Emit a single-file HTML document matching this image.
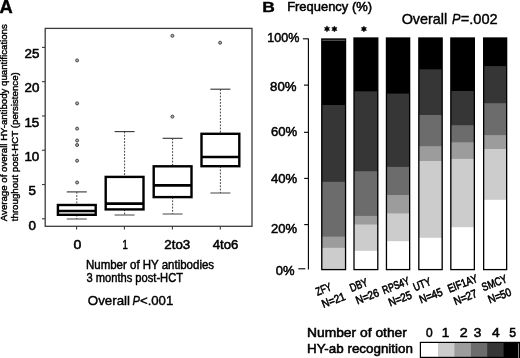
<!DOCTYPE html>
<html><head><meta charset="utf-8"><style>
html,body{margin:0;padding:0;background:#fff;}
svg{display:block;filter:grayscale(1);}
text{font-family:"Liberation Sans", sans-serif;fill:#000;stroke:#000;stroke-width:0.3px;}
</style></head><body>
<svg width="520" height="358" viewBox="0 0 520 358">
<rect x="0" y="0" width="520" height="358" fill="#fff"/>
<text x="-0.46" y="12.50" font-size="18" font-weight="bold" textLength="13.26" lengthAdjust="spacingAndGlyphs" style="stroke-width:0.4px">A</text>
<rect x="45.2" y="28.4" width="206.80" height="197.90" fill="none" stroke="#3c3c3c" stroke-width="1.3"/>
<line x1="42.0" y1="218.80" x2="45.2" y2="218.80" stroke="#3c3c3c" stroke-width="1.1"/>
<text x="28.38" y="229.70" font-size="13.4" textLength="7.45" lengthAdjust="spacingAndGlyphs" style="stroke-width:0.55px">0</text>
<line x1="42.0" y1="184.52" x2="45.2" y2="184.52" stroke="#3c3c3c" stroke-width="1.1"/>
<text x="28.38" y="195.36" font-size="13.4" textLength="7.45" lengthAdjust="spacingAndGlyphs" style="stroke-width:0.55px">5</text>
<line x1="42.0" y1="150.24" x2="45.2" y2="150.24" stroke="#3c3c3c" stroke-width="1.1"/>
<text x="24.43" y="161.02" font-size="13.4" textLength="14.91" lengthAdjust="spacingAndGlyphs" style="stroke-width:0.55px">10</text>
<line x1="42.0" y1="115.96" x2="45.2" y2="115.96" stroke="#3c3c3c" stroke-width="1.1"/>
<text x="24.43" y="126.68" font-size="13.4" textLength="14.91" lengthAdjust="spacingAndGlyphs" style="stroke-width:0.55px">15</text>
<line x1="42.0" y1="81.68" x2="45.2" y2="81.68" stroke="#3c3c3c" stroke-width="1.1"/>
<text x="24.60" y="92.34" font-size="13.4" textLength="14.91" lengthAdjust="spacingAndGlyphs" style="stroke-width:0.55px">20</text>
<line x1="42.0" y1="47.40" x2="45.2" y2="47.40" stroke="#3c3c3c" stroke-width="1.1"/>
<text x="24.60" y="58.00" font-size="13.4" textLength="14.91" lengthAdjust="spacingAndGlyphs" style="stroke-width:0.55px">25</text>
<line x1="76.6" y1="226.3" x2="76.6" y2="229.5" stroke="#3c3c3c" stroke-width="1.1"/>
<line x1="124.4" y1="226.3" x2="124.4" y2="229.5" stroke="#3c3c3c" stroke-width="1.1"/>
<line x1="172.4" y1="226.3" x2="172.4" y2="229.5" stroke="#3c3c3c" stroke-width="1.1"/>
<line x1="220.3" y1="226.3" x2="220.3" y2="229.5" stroke="#3c3c3c" stroke-width="1.1"/>
<text x="73.64" y="249.20" font-size="13.4" textLength="7.84" lengthAdjust="spacingAndGlyphs" style="stroke-width:0.55px">0</text>
<text x="122.38" y="249.20" font-size="13.4" textLength="5.30" lengthAdjust="spacingAndGlyphs" style="stroke-width:0.55px">1</text>
<text x="164.34" y="249.20" font-size="13.4" textLength="25.88" lengthAdjust="spacingAndGlyphs" style="stroke-width:0.55px">2to3</text>
<text x="212.67" y="249.20" font-size="13.4" textLength="25.64" lengthAdjust="spacingAndGlyphs" style="stroke-width:0.55px">4to6</text>
<line x1="76.8" y1="191.9" x2="76.8" y2="205.0" stroke="#3a3a3a" stroke-width="0.95" stroke-dasharray="1.8 1.4"/>
<line x1="76.8" y1="214.8" x2="76.8" y2="219.0" stroke="#3a3a3a" stroke-width="0.95" stroke-dasharray="1.8 1.4"/>
<line x1="66.8" y1="191.9" x2="86.8" y2="191.9" stroke="#333" stroke-width="1.1"/>
<line x1="66.8" y1="219.0" x2="86.8" y2="219.0" stroke="#444" stroke-width="1.0"/>
<rect x="57.90" y="205.0" width="37.8" height="9.80" fill="#fff" stroke="#000" stroke-width="2.4"/>
<line x1="57.90" y1="211.0" x2="95.70" y2="211.0" stroke="#000" stroke-width="2.6"/>
<circle cx="77.1" cy="60.4" r="1.5" fill="#b0b0b0" stroke="#383838" stroke-width="0.9"/>
<circle cx="77.1" cy="103.4" r="1.5" fill="#b0b0b0" stroke="#383838" stroke-width="0.9"/>
<circle cx="77.1" cy="128.6" r="1.5" fill="#b0b0b0" stroke="#383838" stroke-width="0.9"/>
<circle cx="77.1" cy="140.5" r="1.5" fill="#b0b0b0" stroke="#383838" stroke-width="0.9"/>
<circle cx="77.1" cy="145.0" r="1.5" fill="#b0b0b0" stroke="#383838" stroke-width="0.9"/>
<circle cx="77.1" cy="160.7" r="1.5" fill="#b0b0b0" stroke="#383838" stroke-width="0.9"/>
<circle cx="77.1" cy="182.5" r="1.5" fill="#b0b0b0" stroke="#383838" stroke-width="0.9"/>
<line x1="124.6" y1="131.6" x2="124.6" y2="176.9" stroke="#3a3a3a" stroke-width="0.95" stroke-dasharray="1.8 1.4"/>
<line x1="124.6" y1="209.4" x2="124.6" y2="215.0" stroke="#3a3a3a" stroke-width="0.95" stroke-dasharray="1.8 1.4"/>
<line x1="114.6" y1="131.6" x2="134.6" y2="131.6" stroke="#333" stroke-width="1.1"/>
<line x1="114.6" y1="215.0" x2="134.6" y2="215.0" stroke="#444" stroke-width="1.0"/>
<rect x="105.70" y="176.9" width="37.8" height="32.50" fill="#fff" stroke="#000" stroke-width="2.4"/>
<line x1="105.70" y1="203.6" x2="143.50" y2="203.6" stroke="#000" stroke-width="2.6"/>
<line x1="172.6" y1="138.3" x2="172.6" y2="166.3" stroke="#3a3a3a" stroke-width="0.95" stroke-dasharray="1.8 1.4"/>
<line x1="172.6" y1="197.1" x2="172.6" y2="214.0" stroke="#3a3a3a" stroke-width="0.95" stroke-dasharray="1.8 1.4"/>
<line x1="162.6" y1="138.3" x2="182.6" y2="138.3" stroke="#333" stroke-width="1.1"/>
<line x1="162.6" y1="214.0" x2="182.6" y2="214.0" stroke="#444" stroke-width="1.0"/>
<rect x="153.70" y="166.3" width="37.8" height="30.80" fill="#fff" stroke="#000" stroke-width="2.4"/>
<line x1="153.70" y1="185.4" x2="191.50" y2="185.4" stroke="#000" stroke-width="2.6"/>
<circle cx="172.4" cy="35.8" r="1.5" fill="#b0b0b0" stroke="#383838" stroke-width="0.9"/>
<circle cx="172.4" cy="116.6" r="1.5" fill="#b0b0b0" stroke="#383838" stroke-width="0.9"/>
<line x1="220.4" y1="89.2" x2="220.4" y2="133.8" stroke="#3a3a3a" stroke-width="0.95" stroke-dasharray="1.8 1.4"/>
<line x1="220.4" y1="166.2" x2="220.4" y2="193.0" stroke="#3a3a3a" stroke-width="0.95" stroke-dasharray="1.8 1.4"/>
<line x1="210.4" y1="89.2" x2="230.4" y2="89.2" stroke="#333" stroke-width="1.1"/>
<line x1="210.4" y1="193.0" x2="230.4" y2="193.0" stroke="#444" stroke-width="1.0"/>
<rect x="201.50" y="133.8" width="37.8" height="32.40" fill="#fff" stroke="#000" stroke-width="2.4"/>
<line x1="201.50" y1="157.0" x2="239.30" y2="157.0" stroke="#000" stroke-width="2.6"/>
<circle cx="220.1" cy="42.7" r="1.5" fill="#b0b0b0" stroke="#383838" stroke-width="0.9"/>
<text transform="translate(6.7,221.2) rotate(-90)" font-size="9.6" style="stroke-width:0.4px"><tspan x="0" y="0" textLength="197" lengthAdjust="spacingAndGlyphs">Average of overall HY-antibody quantifications</tspan><tspan x="0" y="11.7" textLength="149" lengthAdjust="spacingAndGlyphs">throughout post-HCT (persistence)</tspan></text>
<text x="85.98" y="268.90" font-size="11.9" textLength="128.12" lengthAdjust="spacingAndGlyphs" style="stroke-width:0.45px">Number of HY antibodies</text>
<text x="86.45" y="281.60" font-size="11.9" textLength="96.56" lengthAdjust="spacingAndGlyphs" style="stroke-width:0.45px">3 months post-HCT</text>
<text x="87.80" y="305.40" font-size="12.9" textLength="42.20" lengthAdjust="spacingAndGlyphs" style="stroke-width:0.4px">Overall</text>
<text x="132.57" y="305.40" font-size="12.9" font-style="italic" textLength="7.41" lengthAdjust="spacingAndGlyphs" style="stroke-width:0.4px">P</text>
<text x="139.94" y="305.40" font-size="12.9" textLength="33.32" lengthAdjust="spacingAndGlyphs" style="stroke-width:0.4px">&lt;.001</text>
<text x="262.27" y="12.40" font-size="15.4" font-weight="bold" textLength="12.55" lengthAdjust="spacingAndGlyphs" style="stroke-width:0.4px">B</text>
<text x="287.16" y="11.20" font-size="12.6" textLength="84.85" lengthAdjust="spacingAndGlyphs" style="stroke-width:0.5px">Frequency (%)</text>
<text x="401.65" y="24.40" font-size="14.4" textLength="45.62" lengthAdjust="spacingAndGlyphs" style="stroke-width:0.4px">Overall</text>
<text x="452.02" y="24.40" font-size="14.4" font-style="italic" textLength="8.47" lengthAdjust="spacingAndGlyphs" style="stroke-width:0.4px">P</text>
<text x="460.77" y="24.40" font-size="14.4" textLength="36.97" lengthAdjust="spacingAndGlyphs" style="stroke-width:0.4px">=.002</text>
<line x1="308.4" y1="38.6" x2="308.4" y2="269.4" stroke="#000" stroke-width="1.1"/>
<line x1="302.9" y1="38.8" x2="308.4" y2="38.8" stroke="#000" stroke-width="1.1"/>
<line x1="304.0" y1="85.1" x2="308.4" y2="85.1" stroke="#000" stroke-width="1.1"/>
<line x1="304.0" y1="132.3" x2="308.4" y2="132.3" stroke="#000" stroke-width="1.1"/>
<line x1="304.2" y1="178.4" x2="308.4" y2="178.4" stroke="#000" stroke-width="1.1"/>
<line x1="304.2" y1="224.6" x2="308.4" y2="224.6" stroke="#000" stroke-width="1.1"/>
<line x1="298.3" y1="268.8" x2="305.3" y2="268.8" stroke="#000" stroke-width="1.1"/>
<text x="267.36" y="42.40" font-size="13.3" textLength="32.05" lengthAdjust="spacingAndGlyphs" style="stroke-width:0.5px">100%</text>
<text x="270.10" y="90.60" font-size="13.3" textLength="26.48" lengthAdjust="spacingAndGlyphs" style="stroke-width:0.5px">80%</text>
<text x="270.94" y="136.30" font-size="13.3" textLength="26.34" lengthAdjust="spacingAndGlyphs" style="stroke-width:0.5px">60%</text>
<text x="270.97" y="182.90" font-size="13.3" textLength="26.31" lengthAdjust="spacingAndGlyphs" style="stroke-width:0.5px">40%</text>
<text x="270.95" y="233.30" font-size="13.3" textLength="26.13" lengthAdjust="spacingAndGlyphs" style="stroke-width:0.5px">20%</text>
<text x="275.68" y="275.10" font-size="13.3" textLength="18.78" lengthAdjust="spacingAndGlyphs" style="stroke-width:0.5px">0%</text>
<rect x="321.80" y="39.00" width="23.75" height="230.60" fill="#000000"/>
<rect x="321.80" y="105.00" width="23.75" height="164.60" fill="#363636"/>
<rect x="321.80" y="181.80" width="23.75" height="87.80" fill="#6c6c6c"/>
<rect x="321.80" y="236.60" width="23.75" height="33.00" fill="#9c9c9c"/>
<rect x="321.80" y="247.80" width="23.75" height="21.80" fill="#cccccc"/>
<rect x="321.80" y="39.0" width="23.75" height="230.60" fill="none" stroke="#000" stroke-width="1.3"/>
<rect x="354.00" y="38.00" width="23.80" height="231.60" fill="#000000"/>
<rect x="354.00" y="91.30" width="23.80" height="178.30" fill="#363636"/>
<rect x="354.00" y="171.20" width="23.80" height="98.40" fill="#6c6c6c"/>
<rect x="354.00" y="215.90" width="23.80" height="53.70" fill="#9c9c9c"/>
<rect x="354.00" y="224.50" width="23.80" height="45.10" fill="#cccccc"/>
<rect x="354.00" y="250.80" width="23.80" height="18.80" fill="#ffffff"/>
<rect x="354.00" y="38.0" width="23.80" height="231.60" fill="none" stroke="#000" stroke-width="1.3"/>
<rect x="386.45" y="38.00" width="23.20" height="231.60" fill="#000000"/>
<rect x="386.45" y="93.60" width="23.20" height="176.00" fill="#363636"/>
<rect x="386.45" y="166.90" width="23.20" height="102.70" fill="#6c6c6c"/>
<rect x="386.45" y="195.00" width="23.20" height="74.60" fill="#9c9c9c"/>
<rect x="386.45" y="213.40" width="23.20" height="56.20" fill="#cccccc"/>
<rect x="386.45" y="241.20" width="23.20" height="28.40" fill="#ffffff"/>
<rect x="386.45" y="38.0" width="23.20" height="231.60" fill="none" stroke="#000" stroke-width="1.3"/>
<rect x="418.85" y="38.00" width="23.30" height="231.60" fill="#000000"/>
<rect x="418.85" y="69.30" width="23.30" height="200.30" fill="#363636"/>
<rect x="418.85" y="115.00" width="23.30" height="154.60" fill="#6c6c6c"/>
<rect x="418.85" y="146.20" width="23.30" height="123.40" fill="#9c9c9c"/>
<rect x="418.85" y="161.00" width="23.30" height="108.60" fill="#cccccc"/>
<rect x="418.85" y="237.80" width="23.30" height="31.80" fill="#ffffff"/>
<rect x="418.85" y="38.0" width="23.30" height="231.60" fill="none" stroke="#000" stroke-width="1.3"/>
<rect x="450.85" y="38.00" width="23.50" height="231.60" fill="#000000"/>
<rect x="450.85" y="91.00" width="23.50" height="178.60" fill="#363636"/>
<rect x="450.85" y="125.20" width="23.50" height="144.40" fill="#6c6c6c"/>
<rect x="450.85" y="142.30" width="23.50" height="127.30" fill="#9c9c9c"/>
<rect x="450.85" y="158.90" width="23.50" height="110.70" fill="#cccccc"/>
<rect x="450.85" y="227.20" width="23.50" height="42.40" fill="#ffffff"/>
<rect x="450.85" y="38.0" width="23.50" height="231.60" fill="none" stroke="#000" stroke-width="1.3"/>
<rect x="483.65" y="38.00" width="23.00" height="231.60" fill="#000000"/>
<rect x="483.65" y="66.10" width="23.00" height="203.50" fill="#363636"/>
<rect x="483.65" y="103.20" width="23.00" height="166.40" fill="#6c6c6c"/>
<rect x="483.65" y="135.10" width="23.00" height="134.50" fill="#9c9c9c"/>
<rect x="483.65" y="149.00" width="23.00" height="120.60" fill="#cccccc"/>
<rect x="483.65" y="199.80" width="23.00" height="69.80" fill="#ffffff"/>
<rect x="483.65" y="38.0" width="23.00" height="231.60" fill="none" stroke="#000" stroke-width="1.3"/>
<line x1="322.2" y1="40.3" x2="345.2" y2="40.3" stroke="#777" stroke-width="0.8"/>
<polygon points="327.00,25.85 327.85,27.43 329.64,27.38 328.70,28.90 329.64,30.42 327.85,30.37 327.00,31.95 326.15,30.37 324.36,30.42 325.30,28.90 324.36,27.38 326.15,27.43" fill="#000" stroke="#000" stroke-width="0.4" stroke-linejoin="round"/>
<polygon points="334.40,25.95 335.25,27.53 337.04,27.48 336.10,29.00 337.04,30.52 335.25,30.47 334.40,32.05 333.55,30.47 331.76,30.52 332.70,29.00 331.76,27.48 333.55,27.53" fill="#000" stroke="#000" stroke-width="0.4" stroke-linejoin="round"/>
<polygon points="363.90,25.95 364.75,27.53 366.54,27.48 365.60,29.00 366.54,30.52 364.75,30.47 363.90,32.05 363.05,30.47 361.26,30.52 362.20,29.00 361.26,27.48 363.05,27.53" fill="#000" stroke="#000" stroke-width="0.4" stroke-linejoin="round"/>
<text transform="translate(317.49,295.63) rotate(-21)" font-size="11.4" style="stroke-width:0.6px"><tspan x="0" y="0" textLength="15.84" lengthAdjust="spacingAndGlyphs">ZFY</tspan><tspan x="1.2" y="13.8" textLength="24.17" lengthAdjust="spacingAndGlyphs">N=21</tspan></text>
<text transform="translate(351.39,291.93) rotate(-21)" font-size="11.4" style="stroke-width:0.6px"><tspan x="0" y="0" textLength="18.44" lengthAdjust="spacingAndGlyphs">DBY</tspan><tspan x="1.2" y="13.8" textLength="24.17" lengthAdjust="spacingAndGlyphs">N=26</tspan></text>
<text transform="translate(384.09,294.13) rotate(-21)" font-size="11.4" style="stroke-width:0.6px"><tspan x="0" y="0" textLength="28.15" lengthAdjust="spacingAndGlyphs">RPS4Y</tspan><tspan x="1.2" y="13.8" textLength="24.17" lengthAdjust="spacingAndGlyphs">N=25</tspan></text>
<text transform="translate(414.89,291.13) rotate(-21)" font-size="11.4" style="stroke-width:0.6px"><tspan x="0" y="0" textLength="18.10" lengthAdjust="spacingAndGlyphs">UTY</tspan><tspan x="1.2" y="13.8" textLength="24.17" lengthAdjust="spacingAndGlyphs">N=45</tspan></text>
<text transform="translate(449.39,292.73) rotate(-21)" font-size="11.4" style="stroke-width:0.6px"><tspan x="0" y="0" textLength="31.05" lengthAdjust="spacingAndGlyphs">EIF1AY</tspan><tspan x="1.2" y="13.8" textLength="24.17" lengthAdjust="spacingAndGlyphs">N=27</tspan></text>
<text transform="translate(483.59,291.13) rotate(-21)" font-size="11.4" style="stroke-width:0.6px"><tspan x="0" y="0" textLength="26.14" lengthAdjust="spacingAndGlyphs">SMCY</tspan><tspan x="1.2" y="13.8" textLength="24.17" lengthAdjust="spacingAndGlyphs">N=50</tspan></text>
<text x="306.99" y="336.50" font-size="13.4" textLength="99.92" lengthAdjust="spacingAndGlyphs" style="stroke-width:0.55px">Number of other</text>
<text x="307.03" y="353.10" font-size="13.4" textLength="105.88" lengthAdjust="spacingAndGlyphs" style="stroke-width:0.55px">HY-ab recognition</text>
<text x="426.12" y="336.60" font-size="13.2" textLength="6.67" lengthAdjust="spacingAndGlyphs" style="stroke-width:0.55px">0</text>
<text x="441.69" y="336.60" font-size="13.2" textLength="7.50" lengthAdjust="spacingAndGlyphs" style="stroke-width:0.55px">1</text>
<text x="459.79" y="336.60" font-size="13.2" textLength="7.95" lengthAdjust="spacingAndGlyphs" style="stroke-width:0.55px">2</text>
<text x="473.86" y="336.60" font-size="13.2" textLength="7.57" lengthAdjust="spacingAndGlyphs" style="stroke-width:0.55px">3</text>
<text x="492.05" y="336.60" font-size="13.2" textLength="7.68" lengthAdjust="spacingAndGlyphs" style="stroke-width:0.55px">4</text>
<text x="509.21" y="336.60" font-size="13.2" textLength="6.79" lengthAdjust="spacingAndGlyphs" style="stroke-width:0.55px">5</text>
<rect x="420.4" y="342.4" width="100.10" height="15.00" fill="#ffffff"/>
<rect x="438.0" y="342.4" width="82.50" height="15.00" fill="#cccccc"/>
<rect x="454.4" y="342.4" width="66.10" height="15.00" fill="#9c9c9c"/>
<rect x="470.9" y="342.4" width="49.60" height="15.00" fill="#6c6c6c"/>
<rect x="487.2" y="342.4" width="33.30" height="15.00" fill="#363636"/>
<rect x="503.6" y="342.4" width="16.90" height="15.00" fill="#000000"/>
<rect x="420.4" y="342.4" width="100.10" height="15.00" fill="none" stroke="#000" stroke-width="1.2"/>
<line x1="518.5" y1="343.4" x2="518.5" y2="358" stroke="#aaa" stroke-width="0.8"/>
</svg>
</body></html>
